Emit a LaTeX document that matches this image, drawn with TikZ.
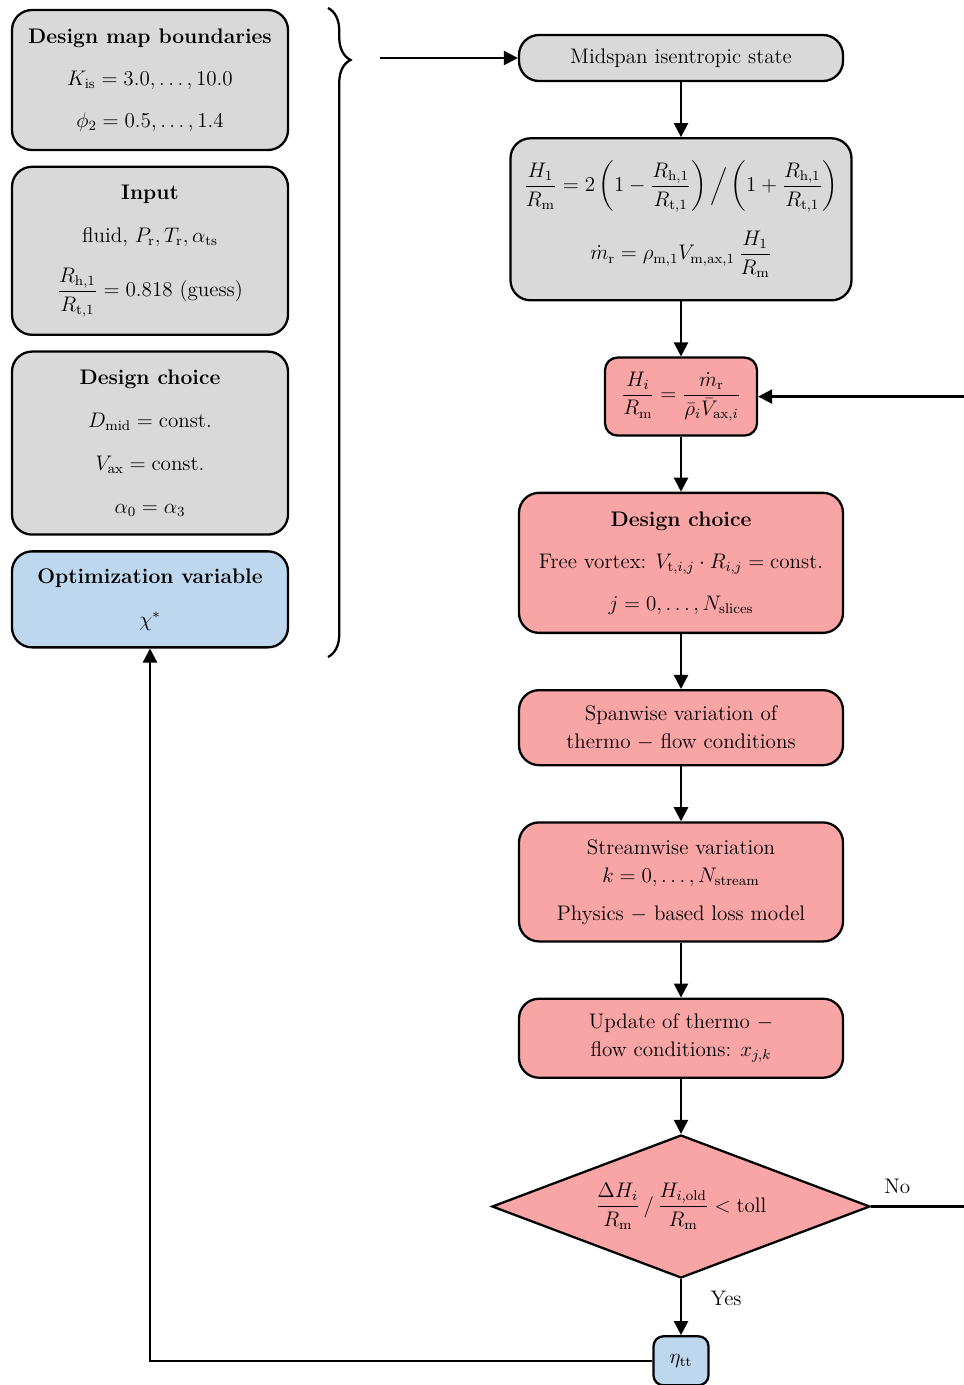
\documentclass[tikz,border=0pt]{standalone}
\usepackage{amsmath}
\usepackage{amsfonts}
\usepackage{xcolor}
\usetikzlibrary{positioning,shapes.geometric,arrows.meta,decorations.pathreplacing}

\definecolor{boxgray}{RGB}{217,217,217}
\definecolor{boxred}{RGB}{250,165,165}
\definecolor{boxblue}{RGB}{189,215,238}

\begin{document}
\begin{tikzpicture}[node distance=1.1cm,
        font=\fontsize{12}{16}\selectfont,
        box/.style={rectangle,draw,line width=1.3pt,rounded corners=0.4cm,align=center,inner sep=0pt,minimum width=6.48cm},
        graybox/.style={box,fill=boxgray},
        redbox/.style={box,fill=boxred},
        bluebox/.style={box,fill=boxblue},
        flow/.style={-{Triangle[length=8pt,width=8pt]},line width=1.3pt}]
        \useasboundingbox (0,0) rectangle (19.28,-27.7);

        % left column
        \node[graybox,minimum width=5.52cm,minimum height=2.8cm] (bounds) at (3.0,-1.6)
            {\textbf{Design map boundaries}\\[0.28cm] $K_{\mathrm{is}} = 3.0, \dots, 10.0$\\[0.28cm] $\phi_2 = 0.5, \dots, 1.4$};
        \node[graybox,minimum width=5.52cm,minimum height=3.36cm,below=0.29cm of bounds] (input)
            {\textbf{Input}\\[0.3cm] fluid, $P_{\mathrm{r}}, T_{\mathrm{r}}, \alpha_{\mathrm{ts}}$\\[0.4cm] $\dfrac{R_{\mathrm{h},1}}{R_{\mathrm{t},1}} = 0.818$ (guess)};
        \node[graybox,minimum width=5.52cm,minimum height=3.66cm,below=0.29cm of input] (layout)
            {\textbf{Design choice}\\[0.3cm] $D_{\mathrm{mid}} = \mathrm{const.}$\\[0.3cm] $V_{\mathrm{ax}} = \mathrm{const.}$\\[0.3cm] $\alpha_0 = \alpha_3$};
        \node[bluebox,minimum width=5.52cm,minimum height=1.92cm,below=0.29cm of layout] (optvar)
            {\textbf{Optimization variable}\\[0.3cm] $\chi^*$};

        \draw[line width=1.3pt,decorate,decoration={brace,amplitude=0.45cm,aspect=0.08}] (6.56,-0.16) -- (6.56,-13.14);
        \coordinate (bracetip) at (7.6,-1.16);

        % right column
        \node[graybox,minimum height=0.92cm] (midspan) at (13.62,-1.16) {Midspan isentropic state};
        \node[graybox,minimum width=6.82cm,minimum height=3.24cm,below=of midspan] (hub)
            {$\dfrac{H_1}{R_{\mathrm{m}}} = 2\left(1-\dfrac{R_{\mathrm{h},1}}{R_{\mathrm{t},1}}\right)\Big/\left(1+\dfrac{R_{\mathrm{h},1}}{R_{\mathrm{t},1}}\right)$\\[0.35cm]
             $\dot{m}_{\mathrm{r}} = \rho_{\mathrm{m},1}V_{\mathrm{m,ax},1}\,\dfrac{H_1}{R_{\mathrm{m}}}$};
        \node[redbox,minimum width=3.04cm,minimum height=1.56cm,rounded corners=0.25cm,below=of hub] (height)
            {$\dfrac{H_i}{R_{\mathrm{m}}} = \dfrac{\dot{m}_{\mathrm{r}}}{\bar{\rho}_i\bar{V}_{\mathrm{ax},i}}$};
        \node[redbox,minimum height=2.8cm,below=of height] (vortex)
            {\textbf{Design choice}\\[0.28cm] Free vortex: $V_{\mathrm{t},i,j}\cdot R_{i,j} = \mathrm{const.}$\\[0.28cm] $j = 0, \dots, N_{\mathrm{slices}}$};
        \node[redbox,minimum height=1.5cm,below=of vortex] (spanwise)
            {Spanwise variation of\\ thermo $-$ flow conditions};
        \node[redbox,minimum height=2.38cm,below=of spanwise] (streamwise)
            {Streamwise variation\\ $k = 0, \dots, N_{\mathrm{stream}}$\\[0.2cm] Physics $-$ based loss model};
        \node[redbox,minimum height=1.58cm,below=of streamwise] (update)
            {Update of thermo $-$\\ flow conditions: $x_{j,k}$};
        \node[diamond,draw,fill=boxred,line width=1.3pt,inner sep=0pt,aspect=2.64,minimum width=7.56cm,minimum height=2.86cm,below=of update] (check)
            {$\dfrac{\Delta H_i}{R_{\mathrm{m}}}\,/\,\dfrac{H_{i,\mathrm{old}}}{R_{\mathrm{m}}} < \mathrm{toll}$};
        \node[bluebox,minimum width=1.1cm,minimum height=0.98cm,rounded corners=0.2cm,below=1.12cm of check] (eff) {$\eta_{\mathrm{tt}}$};

        \coordinate (loopturn) at (19.36,0);

        % connectors
        \draw[flow] (bracetip) -- (midspan);
        \foreach \a/\b in {midspan/hub,hub/height,height/vortex,vortex/spanwise,spanwise/streamwise,streamwise/update,update/check}
            \draw[flow] (\a) -- (\b);
        \draw[flow] (check) -- node[pos=0.35,right=0.45cm] {Yes} (eff);
        \draw[flow] (check.east) -- node[pos=0.27,above=0.12cm] {No} (loopturn |- check.east) -- (loopturn |- height.east) -- (height.east);
        \draw[flow] (eff.west) -| (optvar.south);
    \end{tikzpicture}
\end{document}
